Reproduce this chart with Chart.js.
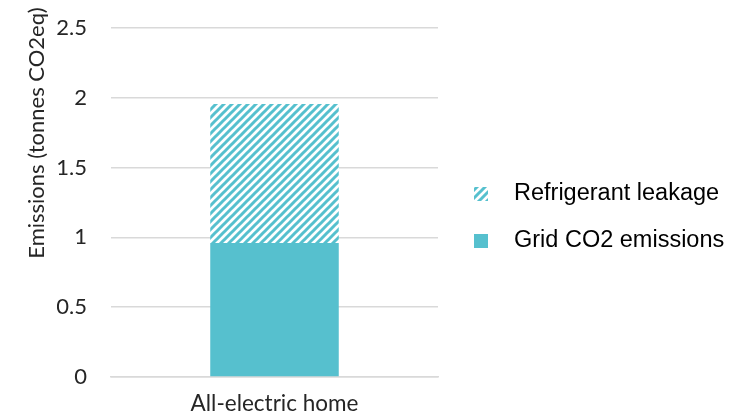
<!DOCTYPE html>
<html>
<head>
<meta charset="utf-8">
<script src="https://cdn.jsdelivr.net/npm/chart.js@4"></script>
<style>
   html, body { margin: 0; padding: 0; background: #fff; }
   #chart { display: block; }
</style>
</head>
<body>
<canvas id="chart" width="743" height="419"></canvas>
<script>
const categories = ["All-electric home"];
const gridEmissions = [0.96];
const refrigerantLeakage = [0.995];
const yTicks = [0, 0.5, 1, 1.5, 2, 2.5];
const yTitle = "Emissions (tonnes CO2eq)";

const teal = "#56c0ce";

function hatch() {
   const size = 8;
   const c = document.createElement("canvas");
   c.width = size;
   c.height = size;
   const g = c.getContext("2d");
   g.fillStyle = "#fff";
   g.fillRect(0, 0, size, size);
   g.strokeStyle = teal;
   g.lineWidth = 3;
   g.beginPath();
   g.moveTo(-2, size + 2); g.lineTo(size + 2, -2);
   g.moveTo(-2, 2); g.lineTo(2, -2);
   g.moveTo(size - 2, size + 2); g.lineTo(size + 2, size - 2);
   g.stroke();
   return g.createPattern(c, "repeat");
}

// y axis title drawn by hand so it can sit where the original puts it
const yTitlePlugin = {
   id: "yTitle",
   afterDraw(chart) {
      const ctx = chart.ctx;
      ctx.save();
      ctx.translate(37, 133);
      ctx.rotate(-Math.PI / 2);
      ctx.font = "22px Lato";
      ctx.fillStyle = "#262626";
      ctx.textAlign = "center";
      ctx.textBaseline = "middle";
      ctx.fillText(yTitle, 0, 0);
      ctx.restore();
   }
};

// legend on the right, top series first (the built-in one gets squeezed)
const sideLegend = {
   id: "sideLegend",
   afterDraw(chart) {
      const ctx = chart.ctx;
      const sets = chart.data.datasets.slice().reverse();
      ctx.save();
      ctx.font = "23.5px 'Liberation Sans'";
      ctx.textBaseline = "middle";
      sets.forEach((ds, i) => {
         const cy = 194 + i * 47;
         ctx.fillStyle = ds.backgroundColor;
         ctx.fillRect(474, cy - 7, 14, 14);
         ctx.fillStyle = "#000";
         ctx.fillText(ds.label, 514, cy);
      });
      ctx.restore();
   }
};

const ctx = document.getElementById("chart").getContext("2d");
new Chart(ctx, {
   type: "bar",
   data: {
      labels: categories,
      datasets: [
         {
            label: "Grid CO2 emissions",
            data: gridEmissions,
            backgroundColor: teal,
            borderWidth: 0
         },
         {
            label: "Refrigerant leakage",
            data: refrigerantLeakage,
            backgroundColor: hatch(),
            borderWidth: 0
         }
      ]
   },
   options: {
      responsive: false,
      animation: false,
      layout: { padding: { left: 57, top: 28, right: 305, bottom: 0 } },
      datasets: { bar: { categoryPercentage: 1, barPercentage: 0.393 } },
      scales: {
         x: {
            stacked: true,
            grid: { display: false, drawTicks: false },
            border: { color: "#d9d9d9", width: 1.5 },
            ticks: { color: "#262626", font: { family: "Lato", size: 22.5 }, padding: 13 },
            afterFit: axis => { axis.height = 42; axis.paddingLeft = 0; axis.paddingRight = 0; }
         },
         y: {
            stacked: true,
            min: 0,
            max: 2.5,
            afterBuildTicks: axis => { axis.ticks = yTicks.map(v => ({ value: v })); },
            grid: { color: "#d9d9d9", lineWidth: 1.5, drawTicks: false },
            border: { display: false },
            ticks: {
               color: "#262626",
               font: { family: "Lato", size: 22 },
               padding: 24,
               callback: v => String(v)
            },
            afterFit: axis => { axis.width = 54; axis.paddingTop = 0; axis.paddingBottom = 0; }
         }
      },
      plugins: {
         legend: { display: false },
         tooltip: { enabled: false }
      }
   },
   plugins: [yTitlePlugin, sideLegend]
});
</script>
</body>
</html>
